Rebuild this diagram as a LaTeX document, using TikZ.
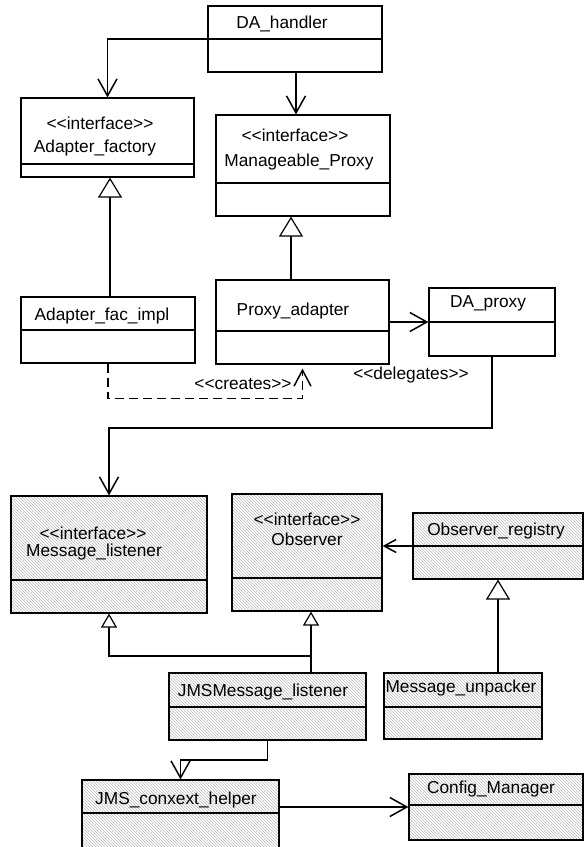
\documentclass[tikz,border=0pt]{standalone}
\usepackage{fontspec}
\setmainfont{Liberation Sans}
\usetikzlibrary{arrows.meta,patterns}
\newcommand{\stereo}[1]{<\kern0pt<#1>\kern0pt>}

\tikzset{
  classbox/.style={draw, rectangle, line width=1.2pt, inner sep=0pt},
  hatched/.style={classbox, pattern=north west lines, pattern color=gray!55},
  divider/.style={line width=1.2pt},
  lbl/.style={inner sep=0pt, font=\fontsize{17.3}{20}\selectfont},
  assoc/.style={line width=1.8pt, -{Straight Barb[length=17pt,width=19pt,line width=1.5pt]}},
  assocsmall/.style={line width=1.8pt, -{Straight Barb[length=12pt,width=13pt,line width=1.5pt]}},
  dep/.style={line width=1.5pt, dash pattern=on 9pt off 5pt, -{Straight Barb[length=16pt,width=17pt,line width=1.5pt,sep=4pt]}},
  gen/.style={line width=1.8pt, -{Triangle[open,length=20pt,width=24pt,fill=white,line width=1.2pt]}},
  gensmall/.style={line width=1.8pt, -{Triangle[open,length=14pt,width=16pt,fill=white,line width=1.2pt]}}
}

\begin{document}
\begin{tikzpicture}[x=1pt,y=-1pt]

  \useasboundingbox (0,0) rectangle (584,847);
  \clip (0,0) rectangle (584,847);

  % upper part
  \node[classbox, minimum width=174, minimum height=66] (handler) at (295,39) {};
  \node[classbox, minimum width=173, minimum height=79] (afactory) at (107.5,137.5) {};
  \node[classbox, minimum width=174, minimum height=101] (mproxy) at (303,165.5) {};
  \node[classbox, minimum width=174, minimum height=66] (facimpl) at (108,330) {};
  \node[classbox, minimum width=173, minimum height=84] (padapter) at (302.5,322) {};
  \node[classbox, minimum width=126, minimum height=68] (daproxy) at (492,322) {};

  \draw[divider] (handler.west) -- (handler.east);
  \draw[divider] (afactory.west |- 0,164) -- (afactory.east |- 0,164);
  \draw[divider] (mproxy.west |- 0,183) -- (mproxy.east |- 0,183);
  \draw[divider] (facimpl.west) -- (facimpl.east);
  \draw[divider] (padapter.west |- 0,331) -- (padapter.east |- 0,331);
  \draw[divider] (daproxy.west) -- (daproxy.east);

  \node[lbl] (handler-name) at (282,24) {DA\_handler};
  \node[lbl] (afactory-st) at (100,123) {\stereo{interface}};
  \node[lbl] (afactory-name) at (95,148) {Adapter\_factory};
  \node[lbl] (mproxy-st) at (295,135) {\stereo{interface}};
  \node[lbl] (mproxy-name) at (299,162) {Manageable\_Proxy};
  \node[lbl] (facimpl-name) at (102,316) {Adapter\_fac\_impl};
  \node[lbl] (padapter-name) at (293,311) {Proxy\_adapter};
  \node[lbl] (daproxy-name) at (488,303) {DA\_proxy};

  % lower part
  \node[hatched, minimum width=196, minimum height=117] (mlistener) at (109,554.5) {};
  \node[hatched, minimum width=150, minimum height=117] (observer) at (307,552.5) {};
  \node[hatched, minimum width=170, minimum height=66] (registry) at (498,546) {};
  \node[hatched, minimum width=197, minimum height=67] (jmslistener) at (267.5,706.5) {};
  \node[hatched, minimum width=158, minimum height=66] (unpacker) at (463,706) {};
  \node[hatched, minimum width=197, minimum height=70] (helper) at (180.5,815) {};
  \node[hatched, minimum width=174, minimum height=66] (config) at (496,807) {};

  \draw[divider] (mlistener.west |- 0,580) -- (mlistener.east |- 0,580);
  \draw[divider] (observer.west |- 0,578) -- (observer.east |- 0,578);
  \draw[divider] (registry.west) -- (registry.east);
  \draw[divider] (jmslistener.west |- 0,707) -- (jmslistener.east |- 0,707);
  \draw[divider] (unpacker.west |- 0,707) -- (unpacker.east |- 0,707);
  \draw[divider] (helper.west |- 0,813) -- (helper.east |- 0,813);
  \draw[divider] (config.west |- 0,805) -- (config.east |- 0,805);

  \node[lbl] (mlistener-st) at (93,533) {\stereo{interface}};
  \node[lbl] (mlistener-name) at (94,552) {Message\_listener};
  \node[lbl] (observer-st) at (307,519) {\stereo{interface}};
  \node[lbl] (observer-name) at (307,539) {Observer};
  \node[lbl] (registry-name) at (496,531) {Observer\_registry};
  \node[lbl] (jmslistener-name) at (263,692) {JMSMessage\_listener};
  \node[lbl] (unpacker-name) at (461,688) {Message\_unpacker};
  \node[lbl] (helper-name) at (176,800) {JMS\_conxext\_helper};
  \node[lbl] (config-name) at (491,789) {Config\_Manager};

  % connectors
  \draw[assoc] (handler.west) -| (afactory.north);
  \draw[assoc] ([xshift=1pt]handler.south) -- ([xshift=1pt]handler.south |- mproxy.north);
  \draw[gen] ([xshift=2pt]facimpl.north) -- ([xshift=2pt]facimpl.north |- afactory.south);
  \draw[gen] ([xshift=-11.5pt]padapter.north) -- ([xshift=-11.5pt]padapter.north |- mproxy.south);
  \draw[assoc] (padapter) -- (daproxy);
  \draw[dep] (facimpl.south) -- ++(0,35) -| (padapter.south);
  \node[lbl] (creates) at (243,384) {\stereo{creates}};
  \node[lbl] (delegates) at (411,375) {\stereo{delegates}};

  \draw[assoc] (daproxy.south) -- ++(0,71) -| (mlistener.north);
  \draw[assocsmall] (registry.west) -- (registry.west -| observer.east);
  \draw[gen] (registry.south |- unpacker.north) -- (registry.south);
  \coordinate (obsfoot) at ([xshift=4pt]observer.south);
  \draw[gensmall] (obsfoot |- jmslistener.north) -- (obsfoot);
  \draw[gensmall] (obsfoot |- 0,656) -| (mlistener.south);
  \draw[assoc] (jmslistener.south) -- ++(0,19) -| (helper.north);
  \draw[assoc] (config.west -| helper.east) -- (config.west);

\end{tikzpicture}
\end{document}
